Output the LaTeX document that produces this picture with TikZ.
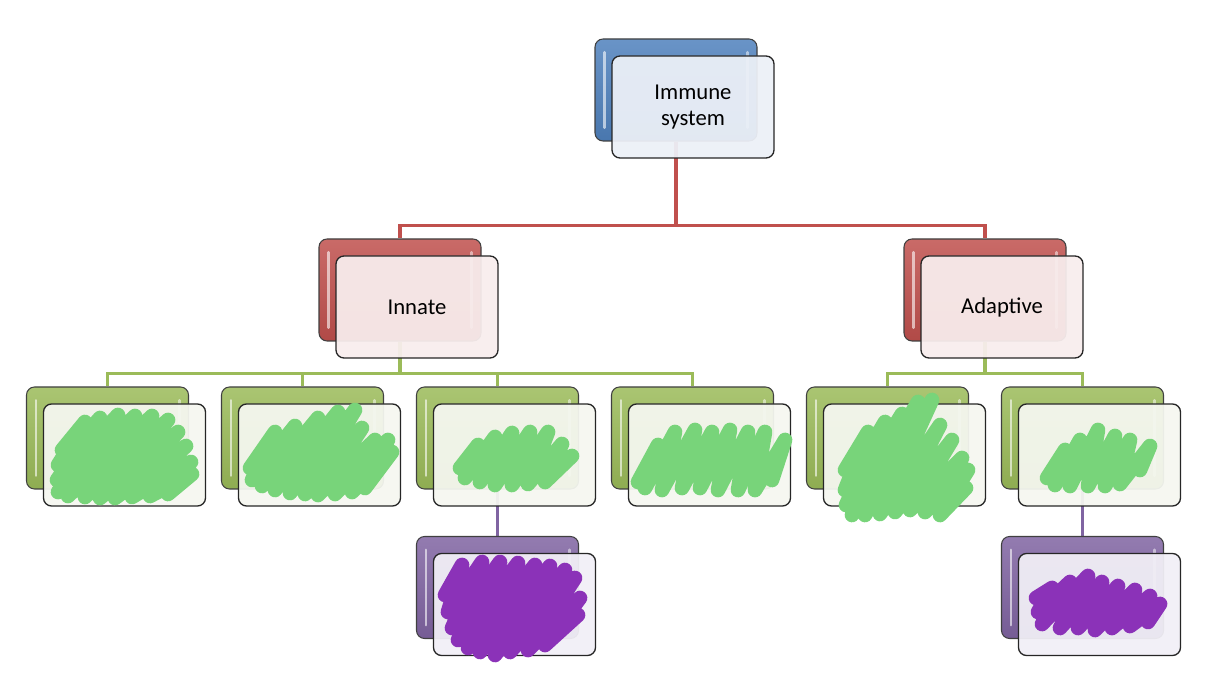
\documentclass[tikz,border=0pt]{standalone}
\usepackage{fontspec}
\setmainfont{Carlito}
\usetikzlibrary{backgrounds}

\definecolor{boxblue}{RGB}{79,129,189}
\definecolor{boxred}{RGB}{192,80,77}
\definecolor{boxgreen}{RGB}{155,187,89}
\definecolor{boxpurple}{RGB}{128,100,162}
\definecolor{faceblue}{RGB}{236,240,247}
\definecolor{facered}{RGB}{248,237,237}
\definecolor{facegreen}{RGB}{245,247,240}
\definecolor{facepurple}{RGB}{241,239,246}
\definecolor{linkred}{RGB}{192,80,77}
\definecolor{linkgreen}{RGB}{155,187,89}
\definecolor{linkpurple}{RGB}{128,100,162}
\definecolor{scribgreen}{RGB}{120,212,122}
\definecolor{scribpurple}{RGB}{139,50,184}

\tikzset{
  backbox/.style={draw=black!75, line width=0.8pt, rounded corners=6pt,
    minimum width=121.5pt, minimum height=76.5pt,
    top color=#1!85!white, bottom color=#1!92!black,
    path picture={
      \draw[white, opacity=.6, line width=2pt, line cap=round]
        ([xshift=7pt,yshift=-10pt]path picture bounding box.north west) --
        ([xshift=7pt,yshift=10pt]path picture bounding box.south west);
      \draw[white, opacity=.5, line width=2pt, line cap=round]
        ([xshift=-7pt,yshift=-10pt]path picture bounding box.north east) --
        ([xshift=-7pt,yshift=10pt]path picture bounding box.south east);
    }},
  frontbox/.style={draw=black!85, line width=1pt, rounded corners=6pt,
    minimum width=121.5pt, minimum height=76.5pt,
    fill=#1, fill opacity=0.94, text opacity=1, align=center,
    font=\fontsize{17}{19}\selectfont},
  link/.style={draw=#1, line width=2.6pt},
  scrib/.style={draw=#1, line width=11pt, line cap=round, line join=round}
}

\begin{document}
\begin{tikzpicture}[x=0.75pt,y=0.75pt,yscale=-1,xscale=1]
\useasboundingbox (0,0) rectangle (1218,680);

% Top level
\node[backbox=boxblue] (immB) at (676,90) {};
\node[frontbox=faceblue] (immF) at ([shift={(17,17)}]immB.center) {Immune\\system};

% Second level
\node[backbox=boxred] (innB) at (400,290) {};
\node[frontbox=facered] (innF) at ([shift={(17,17)}]innB.center) {Innate};
\node[backbox=boxred] (adpB) at (985,290) {};
\node[frontbox=facered] (adpF) at ([shift={(17,17)}]adpB.center) {Adaptive};

% Third level
\node[backbox=boxgreen] (g1B) at (107.5,438) {};
\node[frontbox=facegreen] (g1F) at ([shift={(17,17)}]g1B.center) {};
\node[backbox=boxgreen] (g2B) at (302.5,438) {};
\node[frontbox=facegreen] (g2F) at ([shift={(17,17)}]g2B.center) {};
\node[backbox=boxgreen] (g3B) at (497.5,438) {};
\node[frontbox=facegreen] (g3F) at ([shift={(17,17)}]g3B.center) {};
\node[backbox=boxgreen] (g4B) at (692.5,438) {};
\node[frontbox=facegreen] (g4F) at ([shift={(17,17)}]g4B.center) {};
\node[backbox=boxgreen] (g5B) at (887.5,438) {};
\node[frontbox=facegreen] (g5F) at ([shift={(17,17)}]g5B.center) {};
\node[backbox=boxgreen] (g6B) at (1082.5,438) {};
\node[frontbox=facegreen] (g6F) at ([shift={(17,17)}]g6B.center) {};

% Fourth level
\node[backbox=boxpurple] (p1B) at (497.5,587.5) {};
\node[frontbox=facepurple] (p1F) at ([shift={(17,17)}]p1B.center) {};
\node[backbox=boxpurple] (p2B) at (1082.5,587.5) {};
\node[frontbox=facepurple] (p2F) at ([shift={(17,17)}]p2B.center) {};

% Connectors
\begin{scope}[on background layer]
\draw[link=linkred] (immB.south) -- ++(0,84) coordinate (busA) -| (innB.north);
\draw[link=linkred] (busA) -| (adpB.north);
\draw[link=linkgreen] (innB.south) -- ++(0,32) coordinate (busB) -| (g1B.north);
\draw[link=linkgreen] (busB) -| (g2B.north);
\draw[link=linkgreen] (busB) -| (g3B.north);
\draw[link=linkgreen] (busB) -| (g4B.north);
\draw[link=linkgreen] (adpB.south) -- ++(0,32) coordinate (busC) -| (g5B.north);
\draw[link=linkgreen] (busC) -| (g6B.north);
\draw[link=linkpurple] (g3B.south) -- (p1B.north);
\draw[link=linkpurple] (g6B.south) -- (p2B.north);
\end{scope}

% Scribbles
\draw[scrib=scribgreen] (62,450) -- (85,422) -- (58,465) -- (100,418) -- (57,480) -- (118,415) -- (58,492) -- (135,416) -- (68,496) -- (152,416) -- (85,497) -- (168,420) -- (100,498) -- (178,432) -- (115,498) -- (186,446) -- (132,497) -- (191,462) -- (150,496) -- (192,474) -- (168,494);
\draw[scrib=scribgreen] (250,468) -- (275,432) -- (252,480) -- (295,426) -- (262,486) -- (318,418) -- (275,490) -- (338,412) -- (290,493) -- (355,410) -- (305,494) -- (362,428) -- (318,495) -- (375,440) -- (335,494) -- (388,440) -- (352,492) -- (392,452) -- (365,488);
\draw[scrib=scribgreen] (460,468) -- (478,445) -- (465,478) -- (495,437) -- (480,482) -- (512,433) -- (495,485) -- (530,432) -- (512,485) -- (548,432) -- (528,484) -- (562,444) -- (545,482) -- (572,456);
\draw[scrib=scribgreen] (638,482) -- (658,445) -- (645,488) -- (675,432) -- (662,490) -- (695,430) -- (682,488) -- (712,432) -- (700,488) -- (730,430) -- (718,490) -- (748,432) -- (738,490) -- (765,432) -- (755,490) -- (785,440) -- (772,480);
\draw[scrib=scribgreen] (845,470) -- (868,432) -- (845,490) -- (885,422) -- (846,505) -- (902,414) -- (852,515) -- (918,402) -- (865,515) -- (932,400) -- (880,514) -- (940,425) -- (895,512) -- (952,440) -- (910,510) -- (962,458) -- (925,512) -- (968,470) -- (940,515) -- (966,488);
\draw[scrib=scribgreen] (1047,478) -- (1065,450) -- (1055,485) -- (1080,440) -- (1070,486) -- (1098,430) -- (1088,486) -- (1115,436) -- (1105,486) -- (1130,440) -- (1120,484) -- (1150,446) -- (1140,470);
\draw[scrib=scribpurple] (445,595) -- (462,565) -- (448,612) -- (482,562) -- (452,628) -- (500,562) -- (458,640) -- (518,563) -- (468,648) -- (535,565) -- (480,652) -- (550,566) -- (495,655) -- (565,570) -- (510,652) -- (575,578) -- (528,650) -- (580,598) -- (545,645) -- (578,615);
\draw[scrib=scribpurple] (1036,598) -- (1052,588) -- (1038,612) -- (1070,582) -- (1042,624) -- (1088,576) -- (1060,628) -- (1102,582) -- (1078,628) -- (1118,586) -- (1095,630) -- (1135,590) -- (1112,628) -- (1150,596) -- (1130,626) -- (1160,604) -- (1148,622);

\end{tikzpicture}
\end{document}
